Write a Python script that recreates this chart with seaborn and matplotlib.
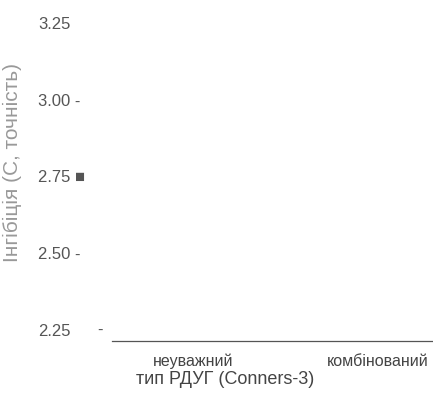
import matplotlib
matplotlib.use("Agg")
import matplotlib.pyplot as plt
import matplotlib.transforms as mtransforms
import seaborn as sns

# Categories and axis labelling
adhd_types = ["неуважний", "комбінований"]
y_ticks = [2.25, 2.50, 2.75, 3.00, 3.25]
y_tick_labels = ["2.25", "2.50 -", "2.75 ■", "3.00 -", "3.25"]
x_title = "тип РДУГ (Conners-3)"
y_title = "Інгібіція (C, точність)"

sns.set_theme(style="white")
plt.rcParams["font.family"] = ["Liberation Sans", "DejaVu Sans"]

fig = plt.figure(figsize=(4.33, 4.01), dpi=100)
ax = fig.add_axes([0.231, 0.1496, 0.769, 0.813])

sns.despine(ax=ax, left=True, top=True, right=True)

ax.set_xticks(range(len(adhd_types)))
ax.set_xticklabels(adhd_types, fontsize=11.5, color="#444444")
ax.set_xlim(-0.503, 1.297)
ax.set_ylim(2.214, 3.276)

ax.set_yticks(y_ticks)
ax.set_yticklabels(y_tick_labels, fontsize=12, color="#555555", ha="left")
ax.tick_params(axis="y", length=0, pad=44.5)
ax.tick_params(axis="x", length=0, pad=9)

# lone tick dash at the lowest level
trans = mtransforms.blended_transform_factory(ax.transAxes, ax.transData)
ax.text(-0.008, 2.25, "-", transform=trans, fontsize=12, color="#555555",
        ha="left", va="center")

ax.spines["bottom"].set_bounds(-0.438, 1.29)
ax.spines["bottom"].set_color("#555555")
ax.spines["bottom"].set_linewidth(0.9)

ax.set_xlabel(x_title, fontsize=13, color="#444444")
ax.xaxis.set_label_coords(0.375, -0.092)
fig.text(0.028, 0.594, y_title, rotation=90, fontsize=15, color="#999999",
         ha="center", va="center")

fig.savefig("out.png", dpi=100)
